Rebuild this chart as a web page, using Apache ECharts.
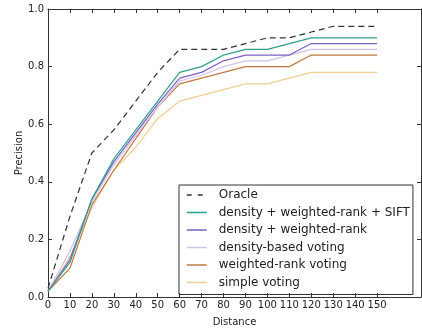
<!DOCTYPE html>
<html>
<head>
<meta charset="utf-8">
<script src="https://cdn.jsdelivr.net/npm/echarts@6/dist/echarts.min.js"></script>
<style>
  html, body { margin: 0; padding: 0; background: #fff; }
  #chart { width: 422px; height: 332px; }
</style>
</head>
<body>
<div id="chart"></div>
<script>
// distance values on x
const distances = [0, 10, 20, 30, 40, 50, 60, 70, 80, 90, 100, 110, 120, 130, 140, 150];
const xTicks = [0, 10, 20, 30, 40, 50, 60, 70, 80, 90, 100, 110, 120, 130, 140, 150];

const oracle = [0.03, 0.28, 0.50, 0.58, 0.68, 0.78, 0.86, 0.86, 0.86, 0.88, 0.90, 0.90, 0.92, 0.94, 0.94, 0.94];
const denseRankSift = [0.02, 0.12, 0.34, 0.48, 0.58, 0.68, 0.78, 0.80, 0.84, 0.86, 0.86, 0.88, 0.90, 0.90, 0.90, 0.90];
const denseRank = [0.02, 0.13, 0.34, 0.47, 0.57, 0.67, 0.76, 0.78, 0.82, 0.84, 0.84, 0.84, 0.88, 0.88, 0.88, 0.88];
const densityVoting = [0.02, 0.16, 0.33, 0.46, 0.56, 0.66, 0.75, 0.77, 0.80, 0.82, 0.82, 0.84, 0.86, 0.86, 0.86, 0.86];
const rankVoting = [0.02, 0.10, 0.32, 0.44, 0.55, 0.66, 0.74, 0.76, 0.78, 0.80, 0.80, 0.80, 0.84, 0.84, 0.84, 0.84];
const simpleVoting = [0.02, 0.14, 0.31, 0.44, 0.52, 0.62, 0.68, 0.70, 0.72, 0.74, 0.74, 0.76, 0.78, 0.78, 0.78, 0.78];

const names = [
  'Oracle',
  'density + weighted-rank + SIFT',
  'density + weighted-rank',
  'density-based voting',
  'weighted-rank voting',
  'simple voting'
];
const values = [oracle, denseRankSift, denseRank, densityVoting, rankVoting, simpleVoting];
const colors = ['#333333', '#2e9f8a', '#7d5fc2', '#cfc1ea', '#c07a40', '#efcf92'];

const font = 'DejaVu Sans, sans-serif';
const axisColor = '#333';

const chart = echarts.init(document.getElementById('chart'));

function pairs(arr) {
  return distances.map((d, i) => [d, arr[i]]);
}

const xBase = {
  type: 'value',
  min: 0,
  max: 170,
  interval: 10,
  splitLine: { show: false },
  axisLine: { onZero: false, lineStyle: { color: axisColor, width: 1 } },
  axisTick: { inside: true, length: 4, customValues: xTicks, lineStyle: { color: axisColor } }
};
const yBase = {
  type: 'value',
  min: 0,
  max: 1,
  interval: 0.2,
  splitLine: { show: false },
  axisLine: { onZero: false, lineStyle: { color: axisColor, width: 1 } },
  axisTick: { inside: true, length: 4, lineStyle: { color: axisColor } }
};

chart.setOption({
  animation: false,
  textStyle: { fontFamily: font },
  grid: { left: 48, right: 1, top: 9, bottom: 32 },
  xAxis: [
    Object.assign({}, xBase, {
      position: 'bottom',
      name: 'Distance',
      nameLocation: 'middle',
      nameGap: 20,
      nameMoveOverlap: false,
      nameTextStyle: { fontSize: 10, color: '#222', fontFamily: font },
      axisLabel: { customValues: xTicks, margin: 3, fontSize: 10, color: '#222', fontFamily: font }
    }),
    Object.assign({}, xBase, {
      position: 'top',
      axisLabel: { show: false }
    })
  ],
  yAxis: [
    Object.assign({}, yBase, {
      position: 'left',
      name: 'Precision',
      nameLocation: 'middle',
      nameGap: 24,
      nameMoveOverlap: false,
      nameTextStyle: { fontSize: 10, color: '#222', fontFamily: font },
      axisLabel: {
        margin: 4, fontSize: 10, color: '#222', fontFamily: font,
        formatter: v => v.toFixed(1)
      }
    }),
    Object.assign({}, yBase, {
      position: 'right',
      axisLabel: { show: false }
    })
  ],
  legend: {
    orient: 'vertical',
    left: 179,
    top: 185,
    padding: [4, 3, 6, 7],
    itemWidth: 20,
    itemHeight: 14,
    itemGap: 5.5,
    itemStyle: { opacity: 0 },
    borderColor: '#333',
    borderWidth: 1,
    borderRadius: 0,
    textStyle: { fontSize: 12, color: '#222', fontFamily: font, padding: [0, 0, 0, 7] },
    data: names.map((n, i) => ({
      name: n,
      itemStyle: { opacity: 0 },
      lineStyle: { color: colors[i], width: 1.5, type: i === 0 ? [5, 6] : 'solid' }
    }))
  },
  series: names.map((n, i) => ({
    name: n,
    type: 'line',
    symbol: 'none',
    data: pairs(values[i]),
    color: colors[i],
    lineStyle: {
      color: colors[i],
      width: 1.2,
      type: i === 0 ? [6, 4] : 'solid'
    },
    z: 10 - i
  }))
});
</script>
</body>
</html>
